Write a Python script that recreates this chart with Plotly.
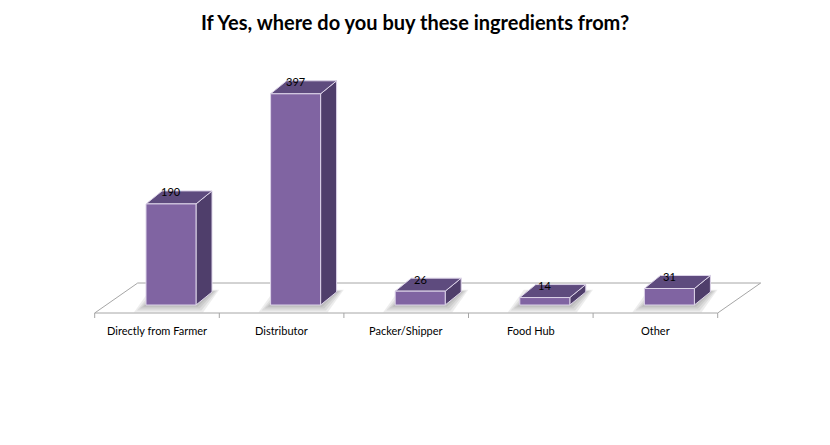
import plotly.graph_objects as go

# Survey responses
categories = ["Directly from Farmer", "Distributor", "Packer/Shipper", "Food Hub", "Other"]
counts = [190, 397, 26, 14, 31]
title_text = "If Yes, where do you buy these ingredients from?"

# Colours of the 3-D bars
FRONT = "#8064A2"
TOP = "#5E4B7E"
SIDE = "#4F3E6B"
EDGE = "#DCD3E8"
FLOOR_LINE = "#A6A6A6"

# Canvas and scale: categories are 1 unit apart, values in counts
W, H = 830, 445
PX_PER_CAT = 124.6
PX_PER_VAL = 0.532
X0_PX, Y0_PX = 157.0, 305.0          # pixel position of category 0 / value 0

x_range = [-X0_PX / PX_PER_CAT, (W - X0_PX) / PX_PER_CAT]
y_range = [(Y0_PX - H) / PX_PER_VAL, Y0_PX / PX_PER_VAL]

def px_x(p):
    return p / PX_PER_CAT

def px_y(p):
    return p / PX_PER_VAL

# Bar geometry
half_w = px_x(25)
shift = px_x(14)
depth_dx, depth_dy = px_x(16), px_y(13)

# Floor geometry
floor_front = -px_y(8)
floor_back = px_y(22)
floor_dx = px_x(43)
n = len(categories)

fig = go.Figure()

def poly(xs, ys, fill, line_color=None, line_width=0):
    fig.add_trace(go.Scatter(
        x=list(xs) + [xs[0]], y=list(ys) + [ys[0]],
        mode="lines", fill="toself", fillcolor=fill,
        line=dict(color=line_color or fill, width=line_width),
        hoverinfo="skip", showlegend=False,
    ))

# Floor plane
fl, fr = -0.5, n - 0.5
poly([fl, fr, fr + floor_dx, fl + floor_dx],
     [floor_front, floor_front, floor_back, floor_back],
     "white", FLOOR_LINE, 1)

# Category tick marks on the front edge of the floor
tx, ty = [], []
for k in range(n + 1):
    tx += [k - 0.5, k - 0.5, None]
    ty += [floor_front, floor_front - px_y(5), None]
fig.add_trace(go.Scatter(x=tx, y=ty, mode="lines",
                         line=dict(color=FLOOR_LINE, width=1),
                         hoverinfo="skip", showlegend=False))

# Soft shadows around each bar's footprint
for i, v in enumerate(counts):
    cx = i + shift
    for e in (12, 9, 6, 3):
        ex, ey = px_x(e), px_y(e * 0.6)
        x0, x1 = cx - half_w - ex, cx + half_w + ex * 0.6
        poly([x0, x1, x1 + depth_dx, x0 + depth_dx],
             [-ey, -ey, depth_dy + ey * 0.3, depth_dy + ey * 0.3],
             "rgba(0,0,0,0.07)")

# Bars: side, top and front faces
for i, v in enumerate(counts):
    cx = i + shift
    x0, x1 = cx - half_w, cx + half_w
    poly([x1, x1 + depth_dx, x1 + depth_dx, x1],
         [0, depth_dy, v + depth_dy, v], SIDE, EDGE, 1)
    poly([x0, x1, x1 + depth_dx, x0 + depth_dx],
         [v, v, v + depth_dy, v + depth_dy], TOP, EDGE, 1)
    poly([x0, x1, x1, x0], [0, 0, v, v], FRONT, EDGE, 1)

# Value labels above each bar
for i, v in enumerate(counts):
    fig.add_annotation(x=i + shift, y=v + px_y(12), text=str(v),
                       showarrow=False, xanchor="center", yanchor="middle",
                       font=dict(family="Lato, Arial", size=11, color="black"))

# Category labels under the floor
for i, c in enumerate(categories):
    fig.add_annotation(x=i, y=-px_y(25), text=c, showarrow=False,
                       xanchor="center", yanchor="middle",
                       font=dict(family="Lato, Arial", size=11, color="black"))

fig.update_layout(
    width=W, height=H,
    margin=dict(l=0, r=0, t=0, b=0),
    paper_bgcolor="white", plot_bgcolor="white",
    title=dict(text="<b>" + title_text + "</b>", x=0.5, xanchor="center",
               y=1 - 23 / H, yanchor="middle",
               font=dict(family="Lato, Arial", size=20, color="black")),
    xaxis=dict(range=x_range, visible=False, fixedrange=True),
    yaxis=dict(range=y_range, visible=False, fixedrange=True),
    showlegend=False,
)

fig.write_html("out.html")
